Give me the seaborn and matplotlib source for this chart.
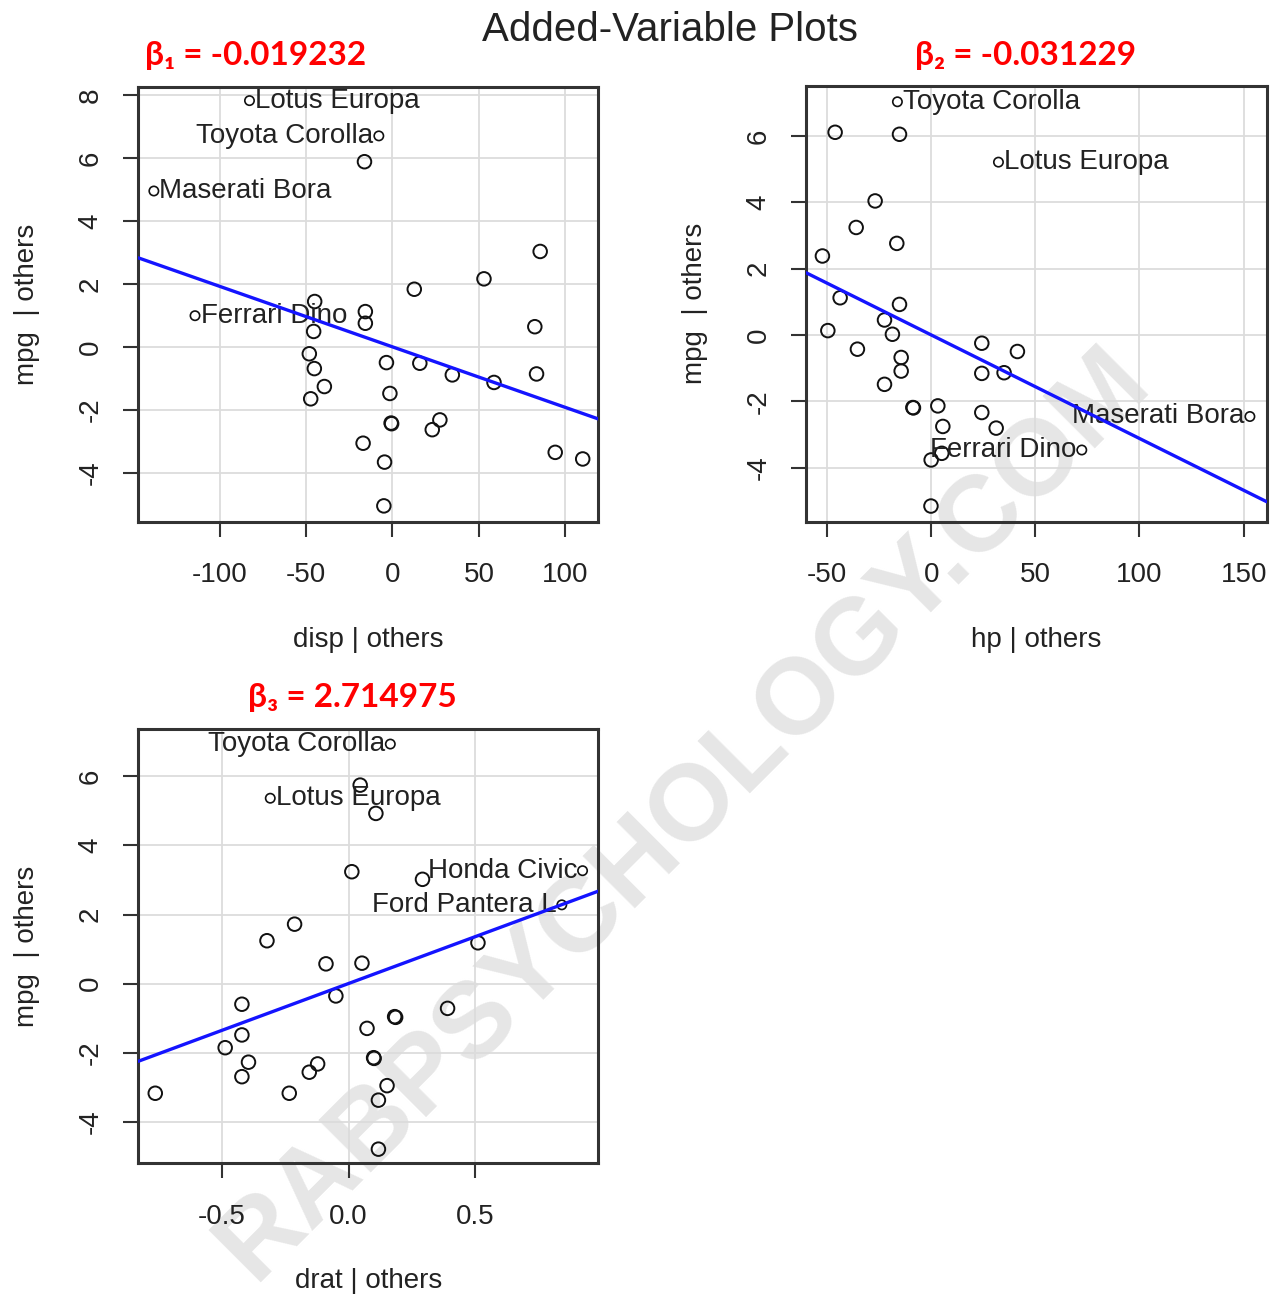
import matplotlib
matplotlib.use("Agg")
import matplotlib.pyplot as plt
import seaborn as sns
import pandas as pd

# Styles
sns.set_style("white")
plt.rcParams['font.family'] = ['Liberation Sans', 'DejaVu Sans']
plt.rcParams['axes.unicode_minus'] = False
text_col = "#222222"
frame_col = "#333333"
grid_col = "#dcdcdc"
line_col = "#1414ff"

# ---- data: disp | others ----
disp_x = [-16.2, 85.4, 52.9, 12.6, -45.0, -15.7, -15.7, 82.3, -45.6, -48.1,
          -45.2, -39.4, -47.3, -3.5, 15.8, 34.6, 58.7, 83.3, -1.5, -0.8,
          -0.5, 27.4, 23.0, -17.0, -4.6, 94.1, 110.0, -5.0]
disp_y = [5.88, 3.03, 2.16, 1.83, 1.44, 1.12, 0.75, 0.64, 0.49, -0.22,
          -0.69, -1.26, -1.65, -0.50, -0.52, -0.89, -1.13, -0.86, -1.48, -2.42,
          -2.44, -2.32, -2.63, -3.06, -3.66, -3.35, -3.56, -5.05]
disp_lab = ["Lotus Europa", "Toyota Corolla", "Maserati Bora", "Ferrari Dino"]
disp_lab_x = [-82.7, -7.9, -138.0, -114.2]
disp_lab_y = [7.82, 6.70, 4.95, 0.99]
beta1 = -0.019232

# ---- data: hp | others ----
hp_x = [-46.1, -15.2, -26.9, -36.0, -16.5, -52.2, -43.7, -15.2, -22.4, -49.6,
        -18.6, 24.3, 41.4, -35.4, -14.4, -14.4, 24.3, 35.0, -22.4, -8.8,
        -8.5, 3.2, 24.3, 5.6, 31.2, 0.0, 5.1, -0.1]
hp_y = [6.11, 6.05, 4.04, 3.24, 2.76, 2.38, 1.12, 0.92, 0.45, 0.13,
        0.02, -0.25, -0.50, -0.43, -0.68, -1.09, -1.16, -1.14, -1.49, -2.19,
        -2.20, -2.14, -2.34, -2.76, -2.81, -3.77, -3.57, -5.16]
hp_lab = ["Toyota Corolla", "Lotus Europa", "Maserati Bora", "Ferrari Dino"]
hp_lab_x = [-16.2, 32.3, 153.0, 72.3]
hp_lab_y = [7.03, 5.21, -2.46, -3.47]
beta2 = -0.031229

# ---- data: drat | others ----
drat_x = [0.046, 0.108, 0.013, 0.292, -0.213, -0.322, 0.511, -0.089, 0.053, -0.050,
          -0.421, 0.391, 0.182, 0.186, 0.073, -0.421, -0.487, -0.395, -0.421, -0.122,
          -0.155, 0.099, 0.101, 0.152, 0.118, -0.763, -0.234, 0.118]
drat_y = [5.75, 4.93, 3.24, 3.02, 1.72, 1.24, 1.18, 0.57, 0.59, -0.36,
          -0.60, -0.72, -0.96, -0.98, -1.30, -1.49, -1.86, -2.28, -2.70, -2.33,
          -2.57, -2.15, -2.17, -2.96, -3.38, -3.18, -3.18, -4.80]
drat_lab = ["Toyota Corolla", "Lotus Europa", "Honda Civic", "Ford Pantera L"]
drat_lab_x = [0.165, -0.309, 0.924, 0.842]
drat_lab_y = [6.94, 5.37, 3.27, 2.28]
beta3 = 2.714975

xticks1 = [-100, -50, 0, 50, 100]
xticks2 = [-50, 0, 50, 100, 150]
xticks3 = [-0.5, 0.0, 0.5]
xticklabels3 = ["-0.5", "0.0", "0.5"]
yticks1 = [-4, -2, 0, 2, 4, 6, 8]
yticks23 = [-4, -2, 0, 2, 4, 6]

fig = plt.figure(figsize=(12.77, 12.95), dpi=100)
ax1 = fig.add_axes([0.1083, 0.5972, 0.3602, 0.3358])
ax2 = fig.add_axes([0.6313, 0.5972, 0.3607, 0.3365])
ax3 = fig.add_axes([0.1083, 0.1017, 0.3602, 0.3352])


def av_panel(ax, x, y, lab, lab_x, lab_y, sides, beta, xlim, ylim, xt, yt, xlabel):
    ax.patch.set_alpha(0)
    for v in xt:
        ax.axvline(v, color=grid_col, lw=1.3, zorder=0)
    for v in yt:
        ax.axhline(v, color=grid_col, lw=1.3, zorder=0)
    sns.scatterplot(x=x, y=y, ax=ax, s=95, facecolor="none", edgecolor="#111111",
                    linewidth=1.4, zorder=3)
    sns.scatterplot(x=lab_x, y=lab_y, ax=ax, s=45, facecolor="none",
                    edgecolor="#111111", linewidth=1.2, zorder=3)
    for name, lx, ly, side in zip(lab, lab_x, lab_y, sides):
        off = 4 if side == "r" else -4
        ax.annotate(name, (lx, ly), xytext=(off, 0), textcoords="offset points",
                    ha="left" if side == "r" else "right", va="center",
                    fontsize=20, color=text_col, zorder=4)
    ax.axline((0, 0), slope=beta, color=line_col, lw=2.4, zorder=4)
    ax.set_xlim(*xlim)
    ax.set_ylim(*ylim)
    ax.set_xticks(xt)
    ax.set_yticks(yt)
    ax.tick_params(axis="both", direction="out", length=11, width=1.5,
                   color=frame_col, labelsize=20, labelcolor=text_col,
                   bottom=True, left=True)
    ax.tick_params(axis="x", pad=18)
    ax.tick_params(axis="y", pad=14)
    for lbl in ax.get_yticklabels():
        lbl.set_rotation(90)
        lbl.set_va("center")
    for sp in ax.spines.values():
        sp.set_visible(True)
        sp.set_color(frame_col)
        sp.set_linewidth(2.2)
    ax.set_xlabel(xlabel, fontsize=20, color=text_col, labelpad=28)
    ax.set_ylabel("mpg  | others", fontsize=20, color=text_col, labelpad=27)


av_panel(ax1, disp_x, disp_y, disp_lab, disp_lab_x, disp_lab_y, ["r", "l", "r", "r"],
         beta1, (-147, 119), (-5.55, 8.26), xticks1, yticks1, "disp | others")
av_panel(ax2, hp_x, hp_y, hp_lab, hp_lab_x, hp_lab_y, ["r", "r", "l", "l"],
         beta2, (-60, 161.1), (-5.63, 7.51), xticks2, yticks23, "hp | others")
av_panel(ax3, drat_x, drat_y, drat_lab, drat_lab_x, drat_lab_y, ["l", "r", "l", "l"],
         beta3, (-0.830, 0.986), (-5.21, 7.37), xticks3, yticks23, "drat | others")
ax3.set_xticklabels(xticklabels3)
for lbl in ax3.get_yticklabels():
    lbl.set_rotation(90)
    lbl.set_va("center")

# Titles
fig.text(0.525, 0.977, "Added-Variable Plots", ha="center", va="center",
         fontsize=29, color=text_col)
beta_font = ['Lato', 'DejaVu Sans']
fig.text(145 / 1277, 1 - 55 / 1295, "\u03b2\u2081 = -0.019232", ha="left", va="center",
         fontsize=24, color="#ff0000", weight="bold", family=beta_font)
fig.text(915 / 1277, 1 - 55 / 1295, "\u03b2\u2082 = -0.031229", ha="left", va="center",
         fontsize=24, color="#ff0000", weight="bold", family=beta_font)
fig.text(248 / 1277, 1 - 698 / 1295, "\u03b2\u2083 = 2.714975", ha="left", va="center",
         fontsize=24, color="#ff0000", weight="bold", family=beta_font)

# Watermark
fig.text(0.535, 0.372, "RABPSYCHOLOGY.COM", rotation=45, rotation_mode="anchor",
         ha="center", va="center", fontsize=78, weight="bold", color="#e6e6e6",
         zorder=-1)

fig.savefig("out.png", dpi=100)
